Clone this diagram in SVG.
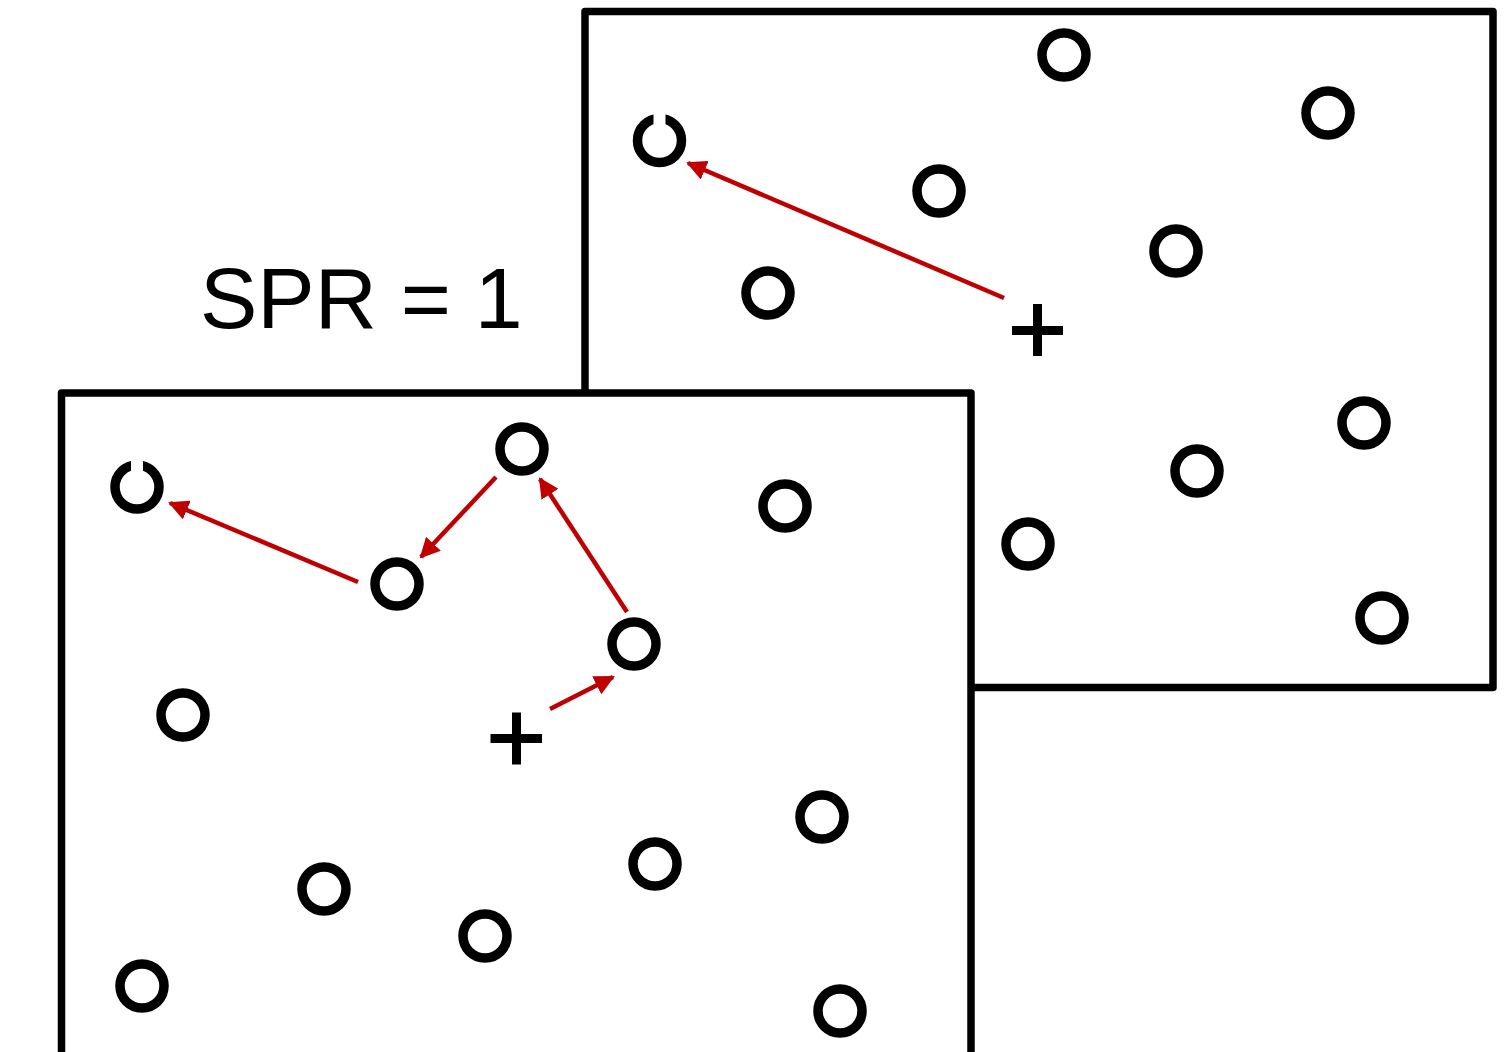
<svg xmlns="http://www.w3.org/2000/svg" width="1511" height="1052" viewBox="0 0 1511 1052">
<style>
.box{fill:#fff;stroke:#000;stroke-width:7.5;stroke-linejoin:round}
.dot{fill:none;stroke:#000;stroke-width:9.5}
.gap{fill:#fff}
.plus{stroke:#000;stroke-width:9;fill:none}
.arr{stroke:#C00000;stroke-width:4.5;fill:none;marker-end:url(#ah)}
.lbl{font-family:"Liberation Sans",Arial,sans-serif;font-size:86px;fill:#000}
</style>
<defs>
<marker id="ah" viewBox="0 0 10 10" refX="9" refY="5" markerWidth="4.5" markerHeight="4.5" markerUnits="strokeWidth" orient="auto">
<path d="M0,0 L10,5 L0,10 z" fill="#C00000"/>
</marker>
</defs>
<g id="back-panel">
<rect class="box" x="585" y="11.5" width="908" height="676"/>
<g id="back-target"><circle class="dot" cx="659.5" cy="140.5" r="22"/><rect class="gap" x="653.5" y="110" width="12" height="16"/></g>
<circle id="b1" class="dot" cx="1064" cy="55" r="22"/>
<circle id="b2" class="dot" cx="1328" cy="113" r="22"/>
<circle id="b3" class="dot" cx="939" cy="191" r="22"/>
<circle id="b4" class="dot" cx="1176" cy="251" r="22"/>
<circle id="b5" class="dot" cx="768" cy="293" r="22"/>
<circle id="b6" class="dot" cx="1364" cy="423" r="22"/>
<circle id="b7" class="dot" cx="1197" cy="471" r="22"/>
<circle id="b8" class="dot" cx="1028" cy="544" r="22"/>
<circle id="b9" class="dot" cx="1382" cy="618" r="22"/>
<path id="back-plus" class="plus" d="M1012,330.5 H1063 M1037.5,304 V356"/>
</g>
<g id="label"><text class="lbl" x="200" y="328">SPR = 1</text></g>
<g id="front-panel">
<rect class="box" x="61.5" y="393" width="909.5" height="700"/>
<g id="front-target"><circle class="dot" cx="137" cy="487" r="22"/><rect class="gap" x="131" y="457" width="12" height="16"/></g>
<circle id="f1" class="dot" cx="522" cy="449" r="22"/>
<circle id="f2" class="dot" cx="785" cy="506" r="22"/>
<circle id="f3" class="dot" cx="397" cy="584" r="22"/>
<circle id="f4" class="dot" cx="634" cy="644" r="22"/>
<circle id="f5" class="dot" cx="183" cy="715" r="22"/>
<circle id="f6" class="dot" cx="822" cy="817" r="22"/>
<circle id="f7" class="dot" cx="655" cy="864" r="22"/>
<circle id="f8" class="dot" cx="324" cy="889" r="22"/>
<circle id="f9" class="dot" cx="485" cy="936" r="22"/>
<circle id="f10" class="dot" cx="142" cy="986" r="22"/>
<circle id="f11" class="dot" cx="840" cy="1011" r="22"/>
<path id="front-plus" class="plus" d="M490.5,738.5 H542 M516.5,712.5 V764.5"/>
</g>
<g id="connectors">
<line class="arr" x1="1004" y1="298" x2="688" y2="163"/>
<line class="arr" x1="358" y1="582" x2="170" y2="503"/>
<line class="arr" x1="496" y1="477" x2="421" y2="557"/>
<line class="arr" x1="627" y1="612" x2="540" y2="479"/>
<line class="arr" x1="550" y1="709" x2="613" y2="677"/>
</g>
</svg>
